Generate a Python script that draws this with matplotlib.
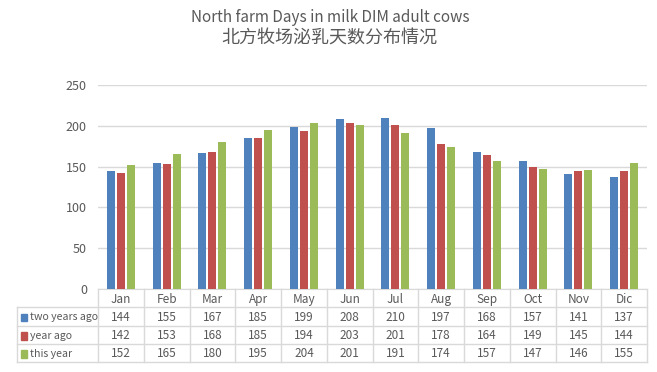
import matplotlib.pyplot as plt
import numpy as np

plt.rcParams['font.family'] = ['Noto Sans CJK SC', 'DejaVu Sans']

months = ["Jan", "Feb", "Mar", "Apr", "May", "Jun", "Jul", "Aug", "Sep", "Oct", "Nov", "Dic"]
series_names = ["two years ago", "year ago", "this year"]
two_years_ago = [144, 155, 167, 185, 199, 208, 210, 197, 168, 157, 141, 137]
year_ago = [142, 153, 168, 185, 194, 203, 201, 178, 164, 149, 145, 144]
this_year = [152, 165, 180, 195, 204, 201, 191, 174, 157, 147, 146, 155]
colors = ["#4f81bd", "#c0504d", "#9bbb59"]

W, H = 657, 372
fig = plt.figure(figsize=(W / 100, H / 100), dpi=100)

# plot area in pixels
left, right, top, bottom = 98, 647, 85, 289
ax = fig.add_axes([left / W, 1 - bottom / H, (right - left) / W, (bottom - top) / H])

x = np.arange(len(months))
bw = 0.175
step = 0.218
for i, vals in enumerate([two_years_ago, year_ago, this_year]):
    ax.bar(x + (i - 1) * step, vals, width=bw, color=colors[i], zorder=3)

ax.set_xlim(-0.5, len(months) - 0.5)
ax.set_ylim(0, 250)
ax.set_yticks(range(0, 251, 50))
ax.grid(axis="y", color="#d9d9d9", linewidth=1, zorder=0)
for s in ["top", "right", "left"]:
    ax.spines[s].set_visible(False)
ax.spines["bottom"].set_color("#d9d9d9")
ax.tick_params(axis="y", length=0, pad=8, labelsize=9, labelcolor="#595959")
ax.tick_params(axis="x", length=0, labelbottom=False)

# data table below the plot
tleft, tbottom = 17, 362
unit = (right - left) / len(months)
x0 = -0.5 - (left - tleft) / unit
tax = fig.add_axes([tleft / W, 1 - tbottom / H, (right - tleft) / W, (tbottom - bottom) / H])
tax.set_xlim(x0, len(months) - 0.5)
tax.set_ylim(4, 0)
tax.axis("off")

lc = "#d9d9d9"
# horizontal lines
for r in [1, 2, 3, 4]:
    tax.plot([x0, len(months) - 0.5], [r, r], color=lc, lw=1, clip_on=False)
# vertical lines
for c in np.arange(-0.5, len(months) + 0.5, 1):
    tax.plot([c, c], [0, 4], color=lc, lw=1, clip_on=False)
tax.plot([x0, x0], [1, 4], color=lc, lw=1, clip_on=False)

tc = "#595959"
for j, m in enumerate(months):
    tax.text(j, 0.55, m, ha="center", va="center", fontsize=8.5, color=tc)
for i, (name, vals) in enumerate(zip(series_names, [two_years_ago, year_ago, this_year])):
    row = i + 1.55
    tax.add_patch(plt.Rectangle((x0 + 0.08, row - 0.2), 0.14, 0.42, color=colors[i], clip_on=False))
    tax.text(x0 + 0.28, row, name, ha="left", va="center", fontsize=7.6, color=tc)
    for j, v in enumerate(vals):
        tax.text(j, row, str(v), ha="center", va="center", fontsize=8.5, color=tc)

fig.text(0.502, 1 - 17 / H, "North farm Days in milk DIM adult cows", ha="center", va="center",
         fontsize=11, color="#595959")
fig.text(0.502, 1 - 39 / H, "北方牧场泌乳天数分布情况", ha="center", va="center",
         fontsize=13, color="#595959")

fig.savefig("out.png", dpi=100)
